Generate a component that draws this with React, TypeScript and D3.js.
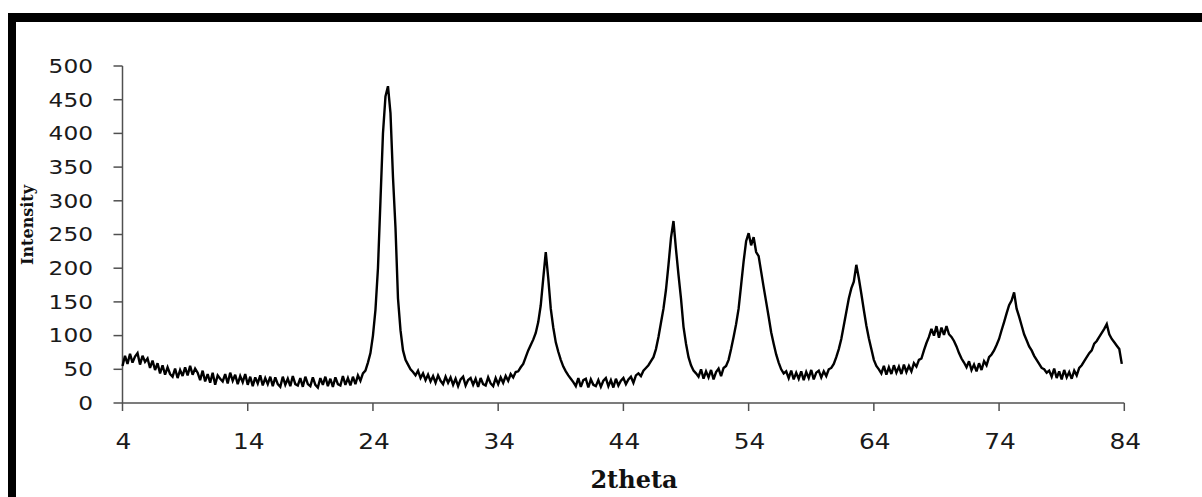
import React from 'react';
import { scaleLinear, line } from 'd3';

// XRD scan, every 0.2 deg starting at 4.0 deg
const thetaStart = 4;
const thetaStep = 0.2;
const intensity = [
  55, 70, 58, 73, 60, 69, 74, 57, 70, 61,
  66, 52, 63, 49, 59, 44, 56, 42, 53, 43,
  39, 51, 37, 49, 40, 53, 41, 55, 42, 51,
  45, 34, 48, 32, 43, 30, 45, 27, 41, 36,
  32, 43, 29, 45, 33, 42, 28, 40, 31, 43,
  27, 39, 25, 38, 29, 41, 26, 37, 28, 39,
  25, 38, 28, 24, 39, 27, 36, 25, 40, 28,
  26, 37, 24, 39, 28, 25, 38, 27, 23, 37,
  27, 39, 25, 36, 24, 38, 28, 26, 40, 27,
  37, 26, 39, 28, 41, 33, 44, 48, 60, 74,
  100, 138, 200, 300, 400, 455, 470, 430, 335, 260,
  155, 108, 78, 64, 57, 50, 46, 41, 48, 37,
  44, 34, 42, 32, 40, 30, 41, 33, 28, 39,
  30, 38, 27, 36, 25, 35, 39, 26, 34, 37,
  27, 36, 24, 37, 28, 26, 38, 29, 25, 37,
  28, 38, 30, 40, 33, 43, 38, 46, 47, 53,
  58, 68, 78, 86, 94, 104, 120, 145, 185, 224,
  185, 140, 112, 90, 76, 64, 54, 47, 41, 36,
  31, 25, 37, 24, 34, 36, 23, 35, 27, 25,
  34, 24, 33, 37, 25, 34, 23, 36, 26, 33,
  37, 28, 35, 39, 30, 41, 44, 40, 48, 52,
  56, 62, 68, 80, 98, 119, 140, 168, 205, 245,
  270, 228, 190, 155, 113, 88, 68, 56, 48, 44,
  39, 50, 36, 47, 38, 49, 35, 46, 51, 40,
  52, 55, 64, 80, 98, 117, 140, 175, 210, 240,
  252, 234, 246, 224, 218, 195, 172, 150, 128, 105,
  88, 72, 60, 50, 44, 47, 37, 48, 35, 45,
  36, 47, 34, 46, 37, 49, 35, 45, 48, 38,
  47, 40, 50, 52, 58, 68, 80, 95, 115, 135,
  155, 170, 180, 205, 185, 162, 138, 115, 96, 80,
  64, 55, 50, 44, 55, 42, 53, 43, 56, 45,
  54, 43, 57, 46, 55, 47, 59, 54, 64, 66,
  78, 89, 98, 110, 100, 114, 97, 112, 101, 114,
  102, 98, 92, 84, 74, 66, 60, 53, 62, 49,
  57, 47, 59, 49, 62, 56, 68, 72, 78, 86,
  95, 108, 120, 133, 145, 152, 164, 140, 128, 115,
  102, 93, 84, 78, 70, 64, 58, 52, 50, 45,
  48, 39, 51, 37, 47, 35, 49, 38, 46, 36,
  48, 41, 52, 56, 62, 68, 74, 78, 88, 92,
  98, 104, 110, 117, 102, 95, 90, 85, 80, 58
];
const xTicks = [4, 14, 24, 34, 44, 54, 64, 74, 84];
const yTicks = [0, 50, 100, 150, 200, 250, 300, 350, 400, 450, 500];

const W = 1202;
const H = 497;
const left = 122.5;
const right = 1124.3;
const top = 66;
const bottom = 403;

export default function App() {
  const x = scaleLinear().domain([4, 84]).range([left, right]);
  const y = scaleLinear().domain([0, 500]).range([bottom, top]);
  const path = line<number>()
    .x((d, i) => x(thetaStart + i * thetaStep))
    .y(d => y(d))(intensity);

  const axisColor = '#505050';
  const numFont = '"DejaVu Sans", Verdana, sans-serif';
  const serifFont = '"DejaVu Serif", Georgia, serif';

  return (
    <svg width={W} height={H} style={{ position: 'absolute', left: 0, top: 0, background: '#fff' }}>
      {/* frame */}
      <rect x={8} y={13} width={W} height={9} fill="#000" />
      <rect x={8} y={13} width={8} height={H} fill="#000" />

      {/* y axis */}
      <line x1={left} x2={left} y1={top} y2={bottom} stroke={axisColor} strokeWidth={1.5} />
      {yTicks.map(t => (
        <g key={t}>
          <line x1={left - 9} x2={left} y1={y(t)} y2={y(t)} stroke={axisColor} strokeWidth={1.5} />
          <text
            x={93}
            y={y(t)}
            dy="0.36em"
            textAnchor="end"
            fontFamily={numFont}
            fontSize={19}
            fill="#1a1a1a"
            textLength={String(t).length * 14.8}
            lengthAdjust="spacingAndGlyphs"
          >
            {t}
          </text>
        </g>
      ))}

      {/* x axis */}
      <line x1={left} x2={right} y1={bottom} y2={bottom} stroke={axisColor} strokeWidth={1.5} />
      {xTicks.map(t => (
        <g key={t}>
          <line x1={x(t)} x2={x(t)} y1={bottom} y2={bottom + 8} stroke={axisColor} strokeWidth={1.5} />
          <text
            x={x(t) + 1}
            y={448.5}
            textAnchor="middle"
            fontFamily={numFont}
            fontSize={22}
            fill="#1a1a1a"
            textLength={String(t).length * 15.8}
            lengthAdjust="spacingAndGlyphs"
          >
            {t}
          </text>
        </g>
      ))}

      {/* data */}
      <path d={path ?? ''} fill="none" stroke="#000" strokeWidth={2.4} strokeLinejoin="miter" strokeMiterlimit={3} />

      {/* axis titles */}
      <text x={634} y={488} textAnchor="middle" fontFamily={serifFont} fontWeight="bold" fontSize={24} fill="#111">
        2theta
      </text>
      <text
        transform="translate(33,225) rotate(-90)"
        textAnchor="middle"
        fontFamily={serifFont}
        fontWeight="bold"
        fontSize={16}
        fill="#111"
      >
        Intensity
      </text>
    </svg>
  );
}
